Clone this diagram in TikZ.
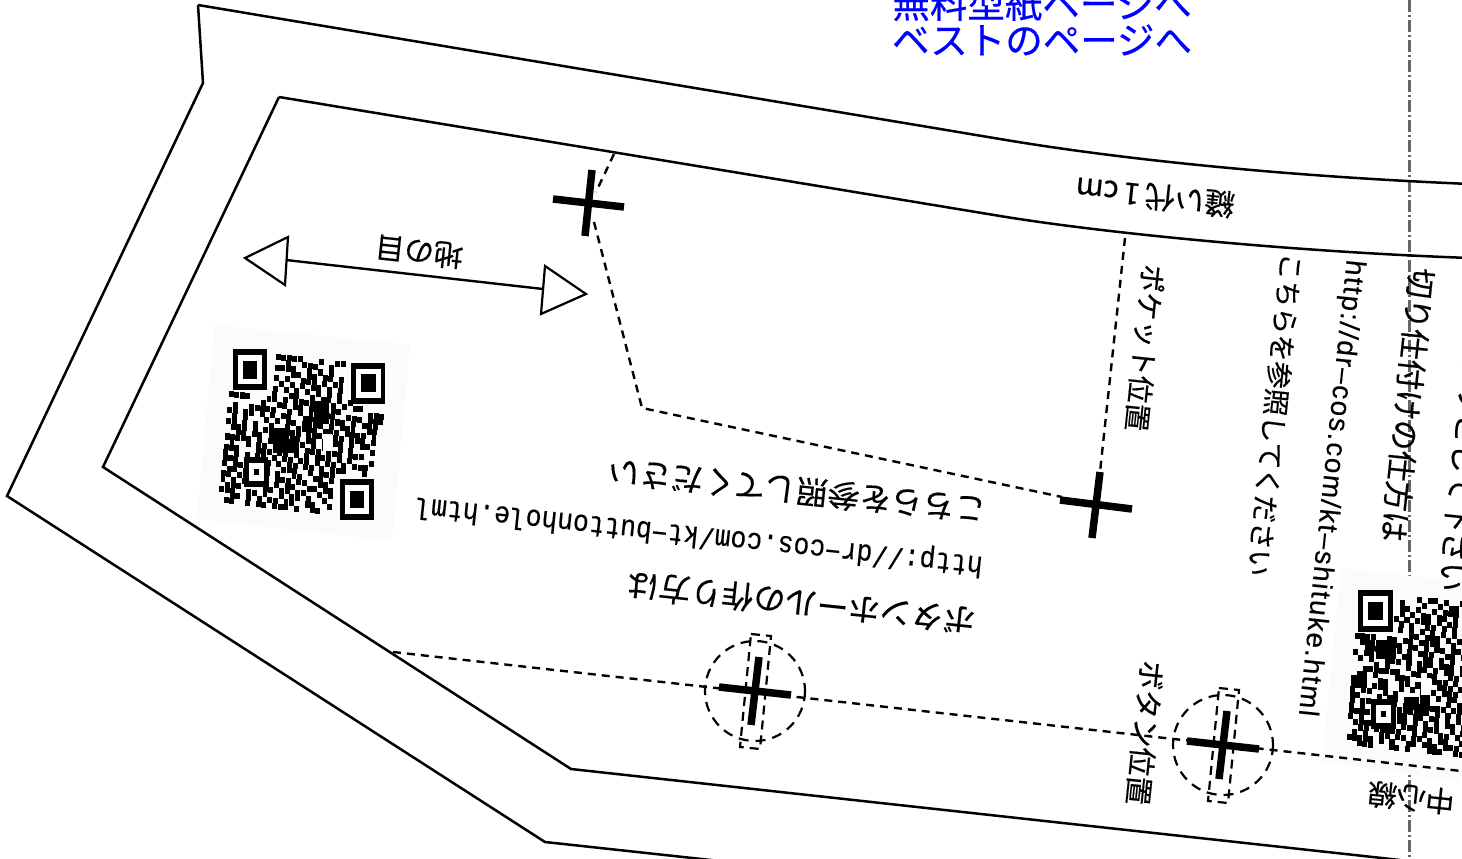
\documentclass[tikz,border=0pt]{standalone}
\usepackage{fontspec}
\newfontfamily\cjk[FakeBold=0.35]{Noto Sans CJK JP}
\newfontfamily\lsans[FakeBold=0.2,LetterSpace=5.5]{Liberation Sans}
\newfontfamily\lmono[FakeBold=0.25]{Liberation Mono}
\newcount\qrc
\newcount\qrr
\def\qrrow#1{\qrc=0 \qrparse#1\relax\advance\qrr by 1 }
\def\qrparse#1{\ifx#1\relax\else\if1#1\fill[black] (\the\qrc,\the\qrr) rectangle ++(1.02,1.02);\fi\advance\qrc by 1 \expandafter\qrparse\fi}
\def\qrfinder#1#2{%
  \fill[black] (#1,#2) rectangle ++(7,7);
  \fill[white] (#1+1,#2+1) rectangle ++(5,5);
  \fill[black] (#1+2,#2+2) rectangle ++(3,3);}
\def\qralign#1#2{%
  \fill[black] (#1,#2) rectangle ++(5,5);
  \fill[white] (#1+1,#2+1) rectangle ++(3,3);
  \fill[black] (#1+2,#2+2) rectangle ++(1,1);}
\tikzset{
  jp/.style={font=\cjk\fontsize{#1}{#1}\selectfont,inner sep=0pt,text=black},
  pattern line/.style={line width=2.5pt,black},
  dash line/.style={line width=2.4pt,black,dash pattern=on 8pt off 6pt},
  fine dash/.style={line width=2.2pt,black,dash pattern=on 10pt off 7pt},
  cross bar/.style={line width=7.5pt,black},
  centre line/.style={line width=3pt,black!60,dash pattern=on 12pt off 3pt on 2pt off 3pt},
  grain tip/.style={line width=2.2pt,black,fill=white,line join=miter},
  qr back/.style={fill=black!1.5,draw=none}
}
\begin{document}
\begin{tikzpicture}[x=1pt,y=-1pt]
\useasboundingbox (0,0) rectangle (1462,859);
\clip (0,0) rectangle (1462,859);
\fill[white] (0,0) rectangle (1462,859);
% centre line
\coordinate (cltop) at (1409,0);
\coordinate (clbot) at (1409,857);
\draw[centre line] (cltop) -- (clbot);
% QR backgrounds
\fill[qr back] (215,325) -- (410,345) -- (392,541) -- (197,519) -- cycle;
\fill[qr back] (1341,568) -- (1480,584) -- (1460,782) -- (1322,762) -- cycle;
% outlines
\draw[pattern line,line join=miter] (198,5) -- (203,83) -- (7,496) -- (545,842) -- (720,861);
\draw[pattern line] (198,5) -- (1000,139) .. controls (1130,161) and (1300,177) .. (1470,184);
\draw[pattern line,line join=miter] (279,97) -- (103,467) -- (571,769) -- (1400,860);
\draw[pattern line] (279,97) -- (1000,216) .. controls (1110,234) and (1300,252) .. (1470,258);
% QR 1
\begin{scope}[shift={(233,349)},x={(5.38pt,-0.62pt)},y={(-0.52pt,-5.28pt)}]
\qrr=0
\qrrow{00000000111110001001100000000}
\qrrow{00000000001001110010000000000}
\qrrow{00000000111100101010000000000}
\qrrow{00000000000110110110100000000}
\qrrow{00000000101001110101100000000}
\qrrow{00000000010101011010100000000}
\qrrow{00000000101010101010100000000}
\qrrow{00000000100110010110101000000}
\qrrow{11110001101011111001010110000}
\qrrow{00000010011011011101100000111}
\qrrow{01001111100101011111001110111}
\qrrow{11011010101100111101110101110}
\qrrow{01010001010110111101011100110}
\qrrow{11010100100101111011101111010}
\qrrow{01110101001111011100110111010}
\qrrow{00110110011111011010110101100}
\qrrow{11111010111110101011010100010}
\qrrow{01001011000111011101110111000}
\qrrow{11100011101101010111010100010}
\qrrow{10101011010110110101101011100}
\qrrow{11101111101011011010111000100}
\qrrow{10111000100111001011100000000}
\qrrow{01101010101001100110100000000}
\qrrow{11011000101110110011000000000}
\qrrow{10101111101011001101100000000}
\qrrow{01110000110110110010100000000}
\qrrow{11100110100101101001000000000}
\qrrow{00110101011011001100100000000}
\qrrow{01100101101110100110000000000}
\fill[black] (8,14) rectangle (12,16);
\fill[black] (9,16) rectangle (14,18);
\fill[black] (16,8) rectangle (19,12);
\fill[white] (18,14) rectangle (20,17);
\qrfinder{0}{0}
\qrfinder{22}{0}
\qrfinder{22}{22}
\qralign{4}{20}
\end{scope}
% QR 2
\begin{scope}[shift={(1358,590)},x={(5.35pt,-0.6pt)},y={(-0.42pt,-5.33pt)}]
\qrr=0
\qrrow{00000000000101101001000000000}
\qrrow{00000000100010010110000000000}
\qrrow{00000000110100101110100000000}
\qrrow{00000000101011011010000000000}
\qrrow{00000001010111010110100000000}
\qrrow{00000000101001101010100000000}
\qrrow{00000000101010101010100000000}
\qrrow{00000000001101110101000000000}
\qrrow{11110011011011110010101101010}
\qrrow{01110001101101011011010110100}
\qrrow{00111101101011100110110101011}
\qrrow{10110111011001101010011010101}
\qrrow{01010011101011101110101011010}
\qrrow{00001010001011010110110101101}
\qrrow{00111111100110110011011010110}
\qrrow{01101000111001011101010101011}
\qrrow{11100110011011001110101101010}
\qrrow{01101110010101110111010100101}
\qrrow{10110010100001101011011010110}
\qrrow{11000101101111100010101101010}
\qrrow{10111111101100111101101010101}
\qrrow{10100100011100101010110101001}
\qrrow{11110101011011011010101010110}
\qrrow{10100100011010101011010101010}
\qrrow{01111111101110111001011010101}
\qrrow{00110111110010100110101101010}
\qrrow{01010011011011010110011010101}
\qrrow{11111010100110111011101010010}
\qrrow{00111000110100011100110101101}
\fill[black] (10,19) rectangle (13,21);
\fill[black] (12,20) rectangle (15,22);
\fill[black] (4,9) rectangle (8,12);
\fill[black] (0,16) rectangle (3,18);
\fill[white] (13,15) rectangle (15,18);
\qrfinder{0}{0}
\qralign{4}{20}
\end{scope}
% dashed construction lines
\coordinate (d1) at (614,154);
\coordinate (d2) at (594,222);
\coordinate (d3) at (642,408);
\coordinate (d4) at (1062,497);
\coordinate (d5) at (1125,238);
\coordinate (d6) at (1100,472);
\coordinate (d7) at (393,652);
\coordinate (d8) at (1470,772);
\draw[dash line] (d1) -- (596,192);
\draw[dash line] (d2) -- (d3) -- (d4);
\draw[dash line] (d5) -- (d6);
\draw[dash line] (d7) -- (d8);
% crosses
\draw[cross bar] (553,199) -- (624,207);
\draw[cross bar] (592,170) -- (585,236);
\draw[cross bar] (1060,500) -- (1132,509);
\draw[cross bar] (1100,472) -- (1092,538);
% button marks
\foreach \cx/\cy/\nm in {755/691/ba,1223/745/bb}{
  \begin{scope}[shift={(\cx,\cy)}]
    \draw[fine dash] (0,0) circle (50);
    \draw[cross bar] (-36,-4) -- (36,4);
    \draw[cross bar] (4,-34) -- (-4,34);
    \draw[line width=2.2pt,dash pattern=on 9pt off 6pt] (-4,-57) -- (16,-55) -- (5,58) -- (-15,56) -- cycle;
  \end{scope}
}
% grain arrow
\coordinate (ga) at (286,260);
\coordinate (gb) at (543,289);
\draw[line width=2.4pt] (ga) -- (gb);
\draw[grain tip] (245,258) -- (288,237) -- (285,285) -- cycle;
\draw[grain tip] (586,294) -- (545,266) -- (541,314) -- cycle;
% text
\node[jp=29.5,rotate=174] (grain) at (419,252) {地の目};
\node[jp=30,rotate=174] (seam) at (1155,197) {縫い代\,1\,cm};
\node[jp=31.8,rotate=174] (ref1) at (797,491) {こちらを参照してください};
\node[inner sep=0pt,font=\lmono\fontsize{30}{30}\selectfont,rotate=174,xscale=0.88] (url1) at (699,535) {http://dr−cos.com/kt−buttonhole.html};
\node[jp=31.8,rotate=174] (btn1) at (801,603) {ボタンホールの作り方は};
\node[jp=27.9,rotate=-96] (pocket) at (1145,348) {ポケット位置};
\node[jp=27.2,rotate=-96] (ref2) at (1275,415) {こちらを参照してください};
\node[inner sep=0pt,font=\lsans\fontsize{28}{28}\selectfont,rotate=-96] (url2) at (1330,488) {http://dr–cos.com/kt–shituke.html};
\node[jp=30.6,rotate=-96] (basting) at (1408,405) {切り仕付けの仕方は};
\node[jp=30,rotate=-96,anchor=east] (cut) at (1450,592) {ソックリとして下さい};
\node[jp=29,rotate=-96] (btnpos) at (1145,733) {ボタン位置};
\node[jp=29,rotate=174] (cline) at (1411,798) {中心線};
\node[inner sep=0pt,font=\cjk\fontsize{37.5}{37.5}\selectfont,text={rgb,255:red,0;green,0;blue,255}] (blue1) at (1042,4) {無料型紙ページへ};
\node[inner sep=0pt,font=\cjk\fontsize{37.5}{37.5}\selectfont,text={rgb,255:red,0;green,0;blue,255}] (blue2) at (1042,40) {ベストのページへ};
\end{tikzpicture}
\end{document}
